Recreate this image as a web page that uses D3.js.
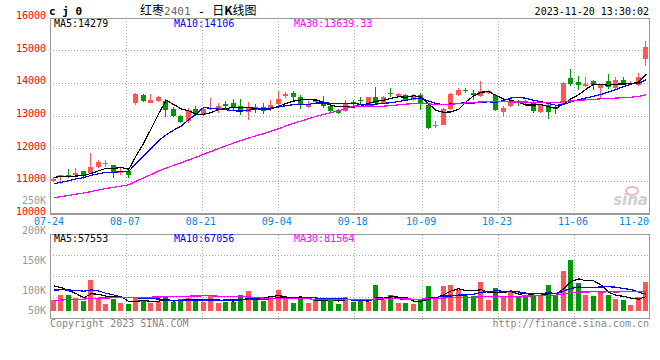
<!DOCTYPE html>
<html><head><meta charset="utf-8">
<script src="https://cdn.jsdelivr.net/npm/d3@7"></script>
<style>body{margin:0;background:#fff}svg{display:block}</style>
</head><body><svg id="c" width="660" height="360"></svg>
<script>
const dates = ["07-24","07-25","07-26","07-27","07-28","07-31","08-01","08-02","08-03","08-04",
"08-07","08-08","08-09","08-10","08-11","08-14","08-15","08-16","08-17","08-18",
"08-21","08-22","08-23","08-24","08-25","08-28","08-29","08-30","08-31","09-01",
"09-04","09-05","09-06","09-07","09-08","09-11","09-12","09-13","09-14","09-15",
"09-18","09-19","09-20","09-21","09-22","09-25","09-26","09-27","09-28",
"10-09","10-10","10-11","10-12","10-13","10-16","10-17","10-18","10-19","10-20",
"10-23","10-24","10-25","10-26","10-27","10-30","10-31","11-01","11-02","11-03",
"11-06","11-07","11-08","11-09","11-10","11-13","11-14","11-15","11-16","11-17","11-20"];
const opens  = [10980,11110,11170,11160,11290,11250,11420,11510,11480,11230,11300,13370,13640,13390,13440,13450,13200,12980,12820,13200,
13010,13190,13180,13340,13370,13300,13110,13260,13260,13190,13340,13600,13690,13570,13270,13400,13420,13290,13180,13140,
13410,13470,13360,13560,13360,13700,13590,13640,13480,13630,13330,12690,12720,13200,13640,13780,13700,13590,13700,13640,
13120,13290,13460,13440,13410,13100,13310,13220,13340,14140,14020,13920,14050,13850,14050,13850,14100,13970,13940,14720];
const highs  = [11110,11190,11360,11400,11300,11860,11650,11620,11490,11410,11320,13680,13670,13650,13600,13520,13260,13030,13230,13280,
13230,13550,13370,13430,13510,13520,13400,13350,13370,13470,13750,13710,13765,13640,13450,13490,13590,13340,13210,13490,
13480,13560,13580,13870,13590,13850,13690,13670,13660,13690,13360,12830,13240,13700,13830,13850,13770,14050,13780,13670,
13290,13580,13490,13490,13480,13330,13370,13290,14020,14440,14200,14170,14080,13960,14280,14170,14170,14070,14300,15290];
const lows   = [10950,10890,11080,11130,11040,11230,11400,11420,11080,11180,11080,13330,13410,13370,13410,12960,12950,12770,12770,12980,
13000,13160,13080,13200,13160,13010,12860,13080,13060,13130,13290,13550,13490,13200,13220,13360,13230,13110,13050,13110,
13290,13360,13340,13360,13340,13560,13560,13440,13440,13170,12600,12620,12700,13170,13610,13690,13490,13560,13660,13130,
12990,13260,13280,13280,13090,13080,12900,13060,13320,13920,13790,13870,13790,13540,13820,13810,13940,13950,13920,14520];
const closes = [11060,11170,11140,11250,11150,11420,11560,11530,11230,11270,11160,13650,13440,13490,13580,13180,12980,12790,13180,13040,
13200,13230,13300,13290,13240,13110,13260,13180,13140,13330,13520,13670,13560,13320,13350,13470,13290,13140,13080,13390,
13390,13450,13560,13390,13570,13680,13670,13490,13620,13350,12620,12710,13200,13670,13770,13760,13640,13740,13740,13170,
13230,13460,13390,13370,13150,13310,13110,13200,14000,13960,13930,13970,13940,13940,13860,14100,13990,13990,14190,15100];
const volumes = [50200,78400,77900,60300,47100,150200,63400,33100,59200,37300,34200,67400,50100,37200,42300,72400,42200,57300,63100,46200,
44100,72300,37400,42200,41900,76300,96400,50200,49800,72100,101300,59200,37100,67300,37200,50100,57200,60400,33200,68100,
42300,46100,42200,125300,50200,76100,37300,37100,33400,50200,120300,68200,120100,125400,101200,72300,71900,140300,54200,112300,
72100,91200,72300,71800,72200,72400,125100,72200,193200,249300,137100,76200,72300,91100,76300,57200,52300,28400,67200,140100];
const priorCloses = [10080,10120,10050,10150,10090,10040,10130,10170,10110,10060,10300,10350,10420,10380,10460,
10510,10440,10490,10550,10450,10620,10700,10680,10750,10720,11050,11130,11180,11100];
const priorVolumes = [18000,22000,15000,25000,20000,30000,28000,19000,24000,26000,21000,27000,33000,25000,22000,
30000,29000,24000,26000,26000,70000,85000,78000,90000,82000,120000,150000,135000,150000];
const priceTicks = [10000,11000,12000,13000,14000,15000,16000];
const dateTicks = ["07-24","08-07","08-21","09-04","09-18","10-09","10-23","11-06","11-20"];
const volTickLabels = ["250K","200K","150K","100K","50K"];
const priceMALabels = ["MA5:14279","MA10:14106","MA30:13639.33"];
const volMALabels = ["MA5:57553","MA10:67056","MA30:81564"];
const maColors = ["#000000","#0000ff","#ff00ff"];

function movingAvg(series, prior, n){
  const all = prior.concat(series);
  return series.map((_, i) => d3.mean(all.slice(i + prior.length - n + 1, i + prior.length + 1)));
}

const svg = d3.select("#c");
const FONT = "'DejaVu Sans Mono', monospace";
const RED = "#ff5555", GREEN = "#009900";
const L = 50, R = 650, PT = 18, PB = 213.3, VT = 234.5, VB = 318;

const xBand = d3.scaleBand().domain(dates).range([L, R]).paddingInner(0.2).paddingOuter(0.1);
const xPoint = d3.scalePoint().domain(dates).range([L, R]);
const yP = d3.scaleLinear().domain([10000, 16000]).range([PB, 17.7]);
const yV = d3.scaleLinear().domain([0, 250000]).range([310.7, 259.5]);
const yVLab = d3.scaleLinear().domain([250000, 50000]).range([201, 321]);

const data = dates.map((d, i) => ({d, o: opens[i], h: highs[i], l: lows[i], c: closes[i], v: volumes[i]}));
const col = d => d.c >= d.o ? RED : GREEN;

// grids
const g = svg.append("g").attr("stroke", "#aaa").attr("stroke-dasharray", "1,2").attr("shape-rendering", "crispEdges");
g.selectAll(".hp").data(priceTicks.slice(1, -1)).join("line")
  .attr("x1", L).attr("x2", R).attr("y1", d => Math.round(yP(d)) + 0.5).attr("y2", d => Math.round(yP(d)) + 0.5);
const vx = dateTicks.slice(1, -1);
g.selectAll(".vp").data(vx).join("line")
  .attr("x1", d => Math.round(xPoint(d)) + 0.5).attr("x2", d => Math.round(xPoint(d)) + 0.5)
  .attr("y1", PT).attr("y2", PB);
g.selectAll(".vv").data(vx).join("line")
  .attr("x1", d => Math.round(xPoint(d)) + 0.5).attr("x2", d => Math.round(xPoint(d)) + 0.5)
  .attr("y1", VT).attr("y2", VB + 4);
g.selectAll(".hv").data([1, 2, 3]).join("line")
  .attr("x1", L).attr("x2", R)
  .attr("y1", k => Math.round(VT + k * (VB - VT) / 4) + 0.5).attr("y2", k => Math.round(VT + k * (VB - VT) / 4) + 0.5);

// frames
svg.append("rect").attr("x", L + 0.5).attr("y", PT + 0.5).attr("width", R - L - 1).attr("height", PB - PT)
  .attr("fill", "none").attr("stroke", "#999").attr("shape-rendering", "crispEdges");
svg.append("line").attr("x1", L).attr("x2", R).attr("y1", 214).attr("y2", 214)
  .attr("stroke", "#999").attr("stroke-width", 2).attr("shape-rendering", "crispEdges");
svg.append("rect").attr("x", L + 0.5).attr("y", VT).attr("width", R - L - 1).attr("height", VB - VT)
  .attr("fill", "none").attr("stroke", "#999").attr("shape-rendering", "crispEdges");

// watermark
const wm = svg.append("g");
wm.append("ellipse").attr("cx", 632).attr("cy", 191).attr("rx", 6).attr("ry", 4).attr("fill", "none").attr("stroke", "#f4b8b8").attr("stroke-width", 2);
wm.append("text").attr("x", 648).attr("y", 205).attr("text-anchor", "end")
  .attr("font-family", "'DejaVu Sans', sans-serif").attr("font-size", 15).attr("font-style", "italic").attr("font-weight", "bold")
  .attr("fill", "#cfcfcf").text("sina");

// candles
const cg = svg.append("g").attr("shape-rendering", "crispEdges");
const cx = d => Math.round(xBand(d.d) + xBand.bandwidth() / 2) - 0.5;
cg.selectAll(".wick").data(data).join("line")
  .attr("x1", cx).attr("x2", cx).attr("y1", d => yP(d.h)).attr("y2", d => yP(d.l)).attr("stroke", col);
cg.selectAll(".body").data(data).join("rect")
  .attr("x", d => Math.round(xBand(d.d)) - 0.5).attr("width", xBand.bandwidth() - 0.5)
  .attr("y", d => yP(Math.max(d.o, d.c))).attr("height", d => Math.max(1, Math.abs(yP(d.o) - yP(d.c))))
  .attr("fill", col);

// price MAs
[5, 10, 30].forEach((n, k) => {
  const m = movingAvg(closes, priorCloses, n);
  svg.append("path").datum(m)
    .attr("d", d3.line().x((v, i) => xBand(dates[i]) + xBand.bandwidth() / 2).y(v => yP(v)))
    .attr("fill", "none").attr("stroke", maColors[k]).attr("stroke-width", 1.2).attr("shape-rendering", "crispEdges");
});

// volume bars
const vg = svg.append("g").attr("shape-rendering", "crispEdges");
vg.selectAll("rect").data(data).join("rect")
  .attr("x", d => Math.round(xBand(d.d)) - 0.5).attr("width", xBand.bandwidth() - 0.5)
  .attr("y", d => yV(d.v)).attr("height", d => yV(0) - yV(d.v)).attr("fill", col);
[5, 10, 30].forEach((n, k) => {
  const m = movingAvg(volumes, priorVolumes, n);
  svg.append("path").datum(m)
    .attr("d", d3.line().x((v, i) => xBand(dates[i]) + xBand.bandwidth() / 2).y(v => yV(v)))
    .attr("fill", "none").attr("stroke", maColors[k]).attr("stroke-width", 1.2).attr("shape-rendering", "crispEdges");
});

// texts
const txt = (x, y, s, fill, anchor) => svg.append("text").attr("x", x).attr("y", y)
  .attr("font-family", FONT).attr("font-size", 10).attr("fill", fill)
  .attr("text-anchor", anchor || "start").attr("dominant-baseline", "middle").text(s);

priceTicks.forEach(p => txt(46, yP(p) - 1.5, p, "#ff0000", "end"));
volTickLabels.forEach((s, i) => txt(46, Math.min(311, yVLab(+s.replace("K", "")*1000)), s, "#999", "end"));
dateTicks.forEach((d, i) => {
  const last = i === dateTicks.length - 1;
  txt(last ? 649 : xPoint(d) - 1, 221.5, d, "#0a84d6", last ? "end" : "middle");
});
priceMALabels.forEach((s, i) => txt(54 + 120 * i, 24, s, maColors[i]));
volMALabels.forEach((s, i) => txt(54 + 120 * i, 238.5, s, maColors[i]));

svg.append("text").attr("x", 49).attr("y", 11.5).attr("font-family", FONT).attr("font-size", 11)
  .attr("font-weight", "bold").attr("dominant-baseline", "middle").attr("fill", "#000").text("c j 0");
const title = svg.append("text").attr("x", 140).attr("y", 11.5).attr("font-size", 12)
  .attr("font-family", "'Noto Sans CJK SC', sans-serif").attr("dominant-baseline", "middle").attr("fill", "#000");
title.append("tspan").text("红枣");
title.append("tspan").attr("font-family", FONT).attr("font-size", 11).attr("fill", "#666").text("2401");
title.append("tspan").attr("font-family", FONT).attr("font-size", 12).text("\u00a0-\u00a0");
title.append("tspan").text("日");
title.append("tspan").attr("font-weight", "bold").text("K");
title.append("tspan").text("线图");
txt(649, 12.3, "2023-11-20 13:30:02", "#000", "end");
txt(50, 324, "Copyright 2023 SINA.COM", "#888");
txt(649, 324, "http://finance.sina.com.cn", "#888", "end");
</script></body></html>
